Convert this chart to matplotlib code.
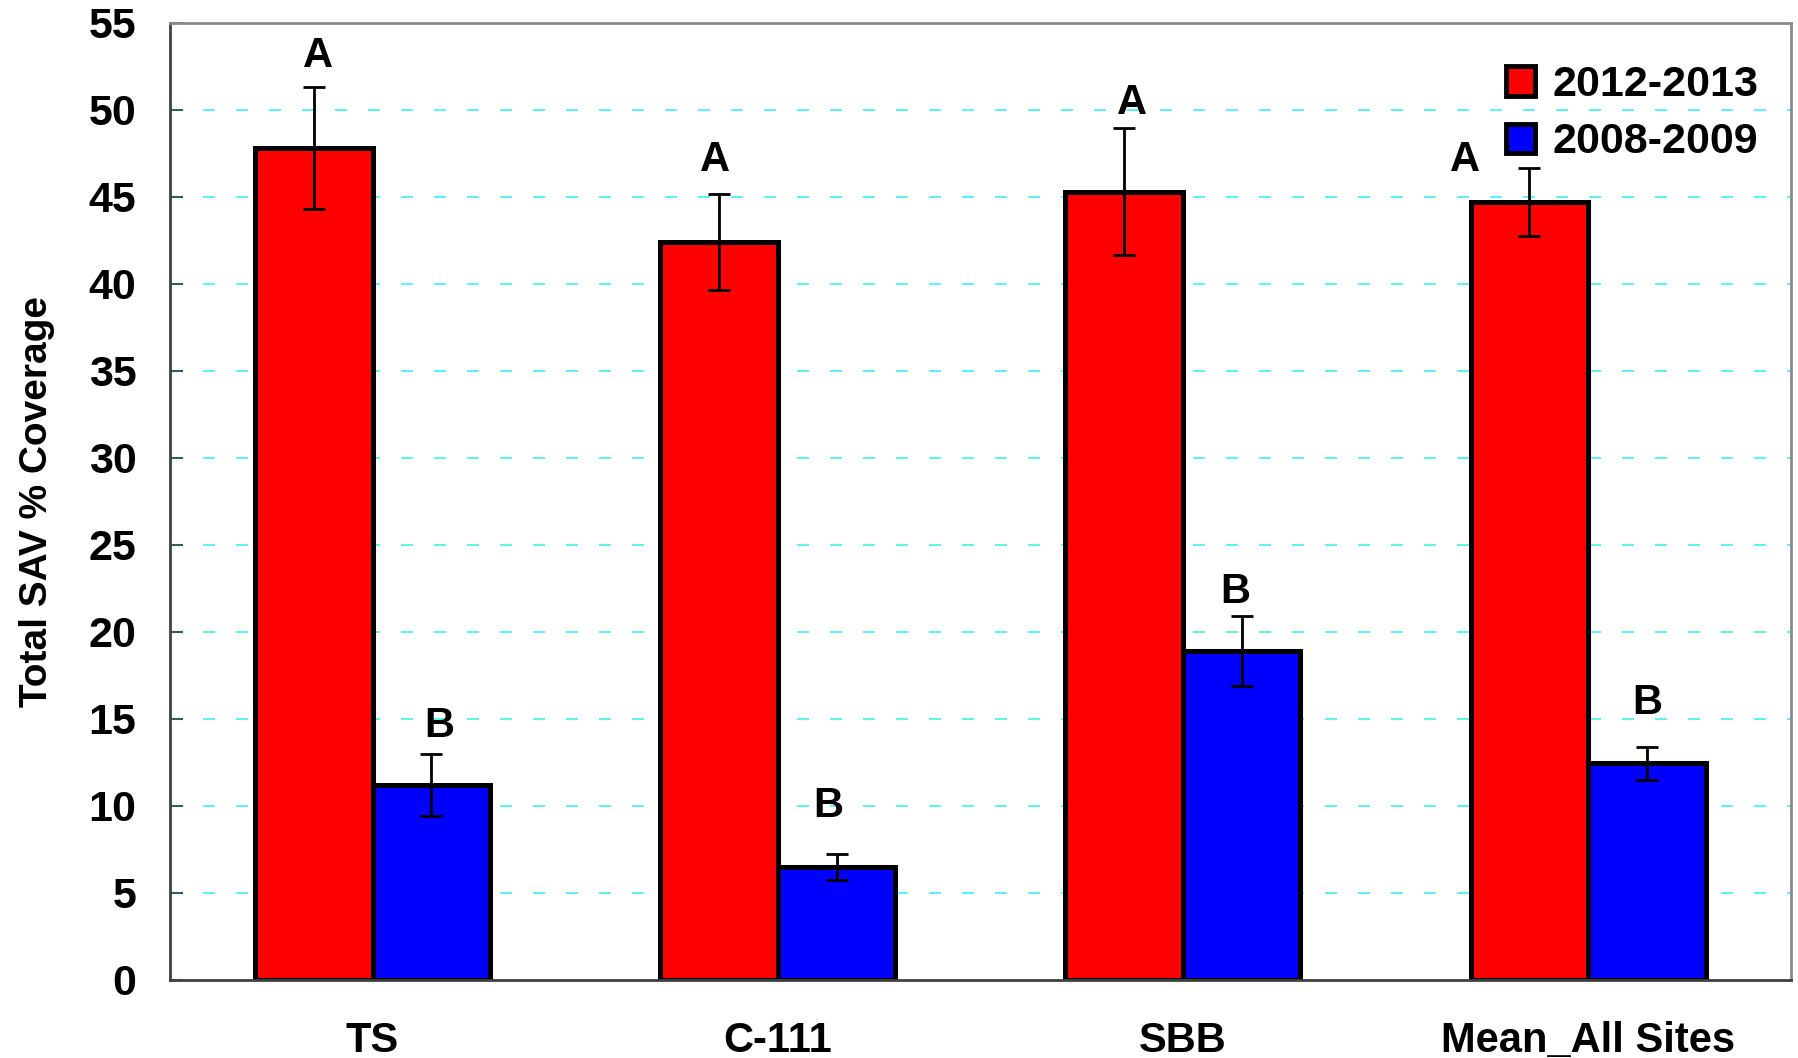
import matplotlib
matplotlib.use("Agg")
import matplotlib.pyplot as plt
import numpy as np

plt.rcParams['font.family'] = ['Liberation Sans', 'DejaVu Sans']
plt.rcParams['font.weight'] = 'bold'

# Site categories and series
sites = ["TS", "C-111", "SBB", "Mean_All Sites"]
series_names = ["2012-2013", "2008-2009"]
cover_2012 = [47.8, 42.4, 45.3, 44.7]
err_2012 = [3.5, 2.75, 3.65, 1.95]
cover_2008 = [11.2, 6.5, 18.9, 12.45]
err_2008 = [1.8, 0.75, 2.0, 0.95]

# Significance letters and their heights
letters_2012 = ["A", "A", "A", "A"]
letters_2012_y = [53.1, 47.1, 50.4, 47.1]
letters_2008 = ["B", "B", "B", "B"]
letters_2008_y = [14.6, 10.0, 22.3, 15.9]

yticks = list(range(0, 56, 5))

fig = plt.figure(figsize=(17.98, 10.58), dpi=100)
ax = fig.add_axes([0.0945, 0.074, 0.9015, 0.9043])

x = np.arange(len(sites))
w = 0.29
red = "#ff0000"
blue = "#0000ff"

for yv in yticks[1:-1]:
    ax.axhline(yv, color="#40f0f0", lw=1.2, dashes=(7.2, 12.6), zorder=0)

ax.bar(x - w / 2, cover_2012, w, color=red, edgecolor="black", linewidth=3.6,
       label=series_names[0], zorder=2)
ax.bar(x + w / 2, cover_2008, w, color=blue, edgecolor="black", linewidth=3.6,
       label=series_names[1], zorder=2)
ax.errorbar(x - w / 2, cover_2012, yerr=err_2012, fmt="none", ecolor="black",
            elinewidth=2, capsize=8, capthick=2, zorder=3)
ax.errorbar(x + w / 2, cover_2008, yerr=err_2008, fmt="none", ecolor="black",
            elinewidth=2, capsize=8, capthick=2, zorder=3)

# Letter offsets along x (the last "A" sits left of its bar)
a_dx = [0.01, -0.01, 0.02, -0.16]
b_dx = [0.02, -0.02, -0.015, 0.0]
for i in range(len(sites)):
    ax.text(x[i] - w / 2 + a_dx[i], letters_2012_y[i], letters_2012[i],
            ha="center", va="center", fontsize=30, fontweight="bold")
    ax.text(x[i] + w / 2 + b_dx[i], letters_2008_y[i], letters_2008[i],
            ha="center", va="center", fontsize=30, fontweight="bold")

ax.set_xlim(-0.5, 3.5)
ax.set_ylim(0, 55)
ax.set_yticks(yticks)
ax.set_yticklabels([str(v) for v in yticks], fontsize=31, fontweight="bold")
ax.set_xticks(x)
ax.set_xticklabels(sites, fontsize=30, fontweight="bold")
ax.tick_params(axis="x", length=0, pad=30)
ax.tick_params(axis="y", direction="in", length=9, width=1.5, color="#2f5f5f", pad=24)

ax.set_ylabel("Total SAV % Coverage", fontsize=28, fontweight="bold")
ax.yaxis.set_label_coords(-0.071, 0.5)

for side in ["left", "bottom"]:
    ax.spines[side].set_color("#404040")
    ax.spines[side].set_linewidth(2)
for side in ["top", "right"]:
    ax.spines[side].set_color("#8a8a8a")
    ax.spines[side].set_linewidth(2)

leg = ax.legend(loc="upper right", bbox_to_anchor=(1.0, 0.99), frameon=False,
                prop={"weight": "bold", "size": 31},
                handlelength=0.68, handleheight=0.68, handletextpad=0.4,
                labelspacing=0.41, borderaxespad=0.35)
for h in leg.legend_handles:
    h.set_linewidth(3.5)

fig.savefig("out.png", dpi=100)
